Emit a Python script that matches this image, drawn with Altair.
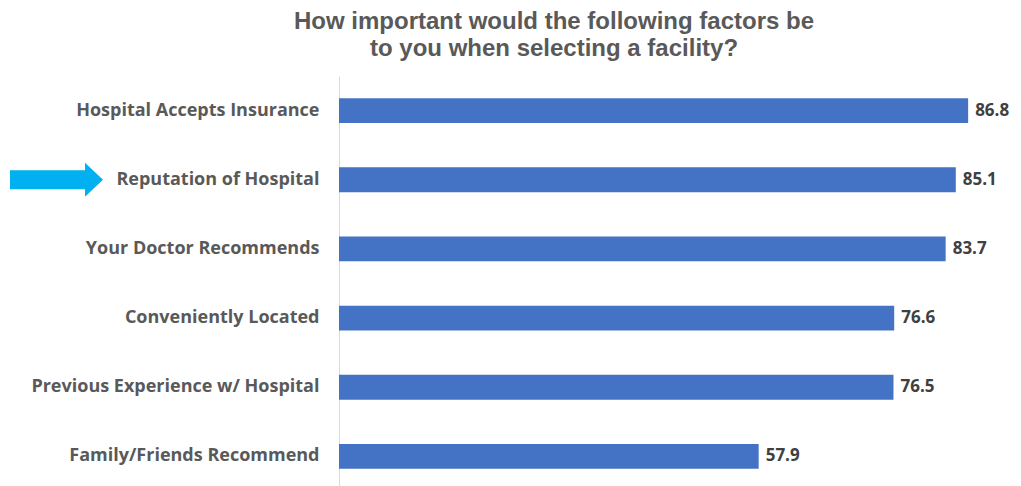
import altair as alt
import pandas as pd

categories = [
    "Hospital Accepts Insurance",
    "Reputation of Hospital",
    "Your Doctor Recommends",
    "Conveniently Located",
    "Previous Experience w/ Hospital",
    "Family/Friends Recommend",
]
values = [86.8, 85.1, 83.7, 76.6, 76.5, 57.9]
highlight = ["Reputation of Hospital"]

df = pd.DataFrame({"factor": categories, "value": values})
arrow_df = pd.DataFrame({"factor": highlight})

FONT = "Open Sans"
y_enc = alt.Y(
    "factor:N",
    sort=categories,
    scale=alt.Scale(paddingInner=0.64, paddingOuter=0.32),
    axis=alt.Axis(
        title=None,
        ticks=False,
        domainColor="#D9D9D9",
        domainWidth=1,
        labelFont=FONT,
        labelFontSize=18,
        labelFontWeight="bold",
        labelColor="#595959",
        labelPadding=20,
        labelLimit=400,
    ),
)
x_enc = alt.X("value:Q", scale=alt.Scale(domain=[0, 88.3]), axis=None)

bars = alt.Chart(df).mark_bar(color="#4472C4").encode(x=x_enc, y=y_enc)
text = alt.Chart(df).mark_text(
    align="left", baseline="middle", dx=7, font=FONT, fontSize=17,
    fontWeight="bold", color="#404040"
).encode(x=x_enc, y=y_enc, text=alt.Text("value:Q", format=".1f"))

arrow_path = "M -1 -0.205 L 0.613 -0.205 L 0.613 -0.366 L 1 0 L 0.613 0.366 L 0.613 0.205 L -1 0.205 Z"
arrow = alt.Chart(arrow_df).mark_point(
    shape=arrow_path, filled=True, color="#00B0F0", opacity=1, size=8649, strokeWidth=0
).encode(x=alt.value(-282.5), y=alt.Y("factor:N", sort=categories))

chart = alt.layer(bars, text, arrow).properties(
    width=640,
    height=415,
    autosize=alt.AutoSizeParams(type="none"),
    padding={"left": 331, "top": 68, "right": 34, "bottom": 0},
    title=alt.TitleParams(
        text=["How important would the following factors be", "to you when selecting a facility?"],
        font="Liberation Sans",
        fontSize=24,
        fontWeight="bold",
        color="#595959",
        lineHeight=27,
        anchor="middle",
        dx=-105,
        offset=15,
    ),
).configure_view(stroke=None)

chart.save("out.html", embed_options={"renderer": "svg", "actions": False})
